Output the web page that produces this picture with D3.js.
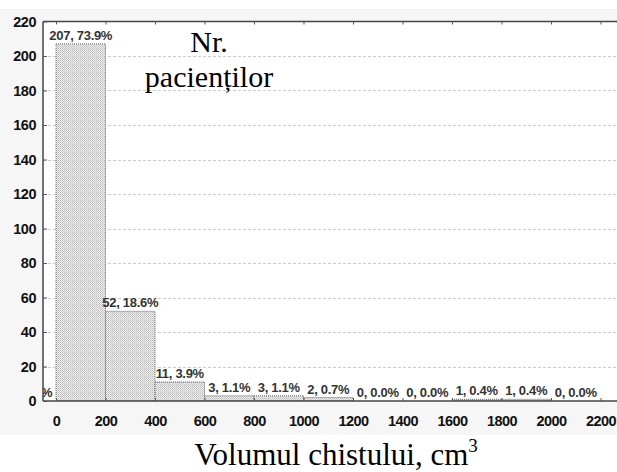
<!DOCTYPE html>
<html>
<head>
<meta charset="utf-8">
<script src="https://cdn.jsdelivr.net/npm/d3@7"></script>
<style>
  body { margin: 0; background: #fff; }
  svg { display: block; }
</style>
</head>
<body>
<script>
var width = 617;
var height = 472;

// bins of 200 cm3, first one (-200..0) is clipped by the left axis
var binStarts = [-200, 0, 200, 400, 600, 800, 1000, 1200, 1400, 1600, 1800, 2000];
var counts = [0, 207, 52, 11, 3, 3, 2, 0, 0, 1, 1, 0];
var percents = ["0.0", "73.9", "18.6", "3.9", "1.1", "1.1", "0.7", "0.0", "0.0", "0.4", "0.4", "0.0"];
var xTicks = [0, 200, 400, 600, 800, 1000, 1200, 1400, 1600, 1800, 2000, 2200];
var yTicks = [0, 20, 40, 60, 80, 100, 120, 140, 160, 180, 200, 220];
var binWidth = 200;

var svg = d3.select("body")
        .append("svg")
        .attr("width", width)
        .attr("height", height);

var x = d3.scaleLinear().domain([0, 2200]).range([56, 600.5]),
        y = d3.scaleLinear().domain([0, 220]).range([401, 21.5]);

var plotLeft = 43, plotRight = 620, plotTop = y(220), plotBottom = y(0);

var defs = svg.append("defs");
var pat = defs.append("pattern")
        .attr("id", "stipple")
        .attr("patternUnits", "userSpaceOnUse")
        .attr("width", 2).attr("height", 2);
pat.append("rect").attr("width", 2).attr("height", 2).attr("fill", "#ededed");
pat.append("rect").attr("width", 1).attr("height", 1).attr("fill", "#bcbcbc");
pat.append("rect").attr("x", 1).attr("y", 1).attr("width", 1).attr("height", 1).attr("fill", "#cdcdcd");

defs.append("clipPath").attr("id", "plotclip")
        .append("rect")
        .attr("x", plotLeft).attr("y", plotTop - 20)
        .attr("width", plotRight - plotLeft).attr("height", plotBottom - plotTop + 20);

// light panel behind the graph
svg.append("rect")
        .attr("x", 0).attr("y", 9)
        .attr("width", width).attr("height", 426)
        .attr("fill", "#f6f6f6");

svg.append("rect")
        .attr("x", plotLeft).attr("y", plotTop)
        .attr("width", plotRight - plotLeft).attr("height", plotBottom - plotTop)
        .attr("fill", "#fff");

// dashed grid
svg.append("g")
        .selectAll("line")
        .data(yTicks.slice(1, -1))
        .enter().append("line")
        .attr("x1", plotLeft).attr("x2", plotRight)
        .attr("y1", function(d){return Math.round(y(d)) + 0.5;})
        .attr("y2", function(d){return Math.round(y(d)) + 0.5;})
        .attr("stroke", "#cccccc")
        .attr("stroke-dasharray", "3,2");

var plot = svg.append("g").attr("clip-path", "url(#plotclip)");

var bins = binStarts.map(function(s, i){
    return {x0: s, x1: s + binWidth, n: counts[i], p: percents[i]};
});

plot.selectAll("rect.bar")
        .data(bins)
        .enter().append("rect")
        .attr("class", "bar")
        .attr("x", function(d){return x(d.x0);})
        .attr("y", function(d){return y(d.n);})
        .attr("width", function(d){return x(d.x1) - x(d.x0);})
        .attr("height", function(d){return y(0) - y(d.n);})
        .attr("fill", "url(#stipple)")
        .attr("stroke", "#666")
        .attr("stroke-width", 1)
        .attr("stroke-dasharray", "1,1");

plot.selectAll("text.lbl")
        .data(bins)
        .enter().append("text")
        .attr("class", "lbl")
        .attr("x", function(d){return x((d.x0 + d.x1) / 2);})
        .attr("y", function(d){return y(d.n) - 4;})
        .attr("text-anchor", "middle")
        .attr("font-family", "Liberation Sans, Arial, sans-serif")
        .attr("font-weight", "bold")
        .attr("font-size", 13)
        .attr("letter-spacing", -0.3)
        .attr("fill", "#333")
        .text(function(d){return d.n + ", " + d.p + "%";});

// frame
var axisColor = "#444";
svg.append("line").attr("x1", plotLeft).attr("x2", plotRight)
        .attr("y1", plotTop).attr("y2", plotTop).attr("stroke", axisColor).attr("stroke-width", 1.5);
svg.append("line").attr("x1", plotLeft).attr("x2", plotRight)
        .attr("y1", plotBottom).attr("y2", plotBottom).attr("stroke", axisColor).attr("stroke-width", 1.5);
svg.append("line").attr("x1", plotLeft).attr("x2", plotLeft)
        .attr("y1", plotTop).attr("y2", plotBottom).attr("stroke", axisColor).attr("stroke-width", 1.5);

// y axis (ticks inward)
var yAxis = d3.axisLeft(y).tickValues(yTicks).tickFormat(d3.format("d")).tickSize(-4).tickPadding(7);
var gy = svg.append("g")
        .attr("transform", "translate(" + plotLeft + ",0)")
        .call(yAxis);

// x axis (ticks inward) and mirrored ticks on top
var xAxis = d3.axisBottom(x).tickValues(xTicks).tickFormat(d3.format("d")).tickSize(-3).tickPadding(16);
var gx = svg.append("g")
        .attr("transform", "translate(0," + plotBottom + ")")
        .call(xAxis);
var gt = svg.append("g")
        .attr("transform", "translate(0," + plotTop + ")")
        .call(d3.axisTop(x).tickValues(xTicks).tickSize(-3).tickFormat(""));

[gy, gx, gt].forEach(function(g){
    g.select(".domain").remove();
    g.selectAll(".tick line").attr("stroke", "#555");
    g.selectAll("text")
            .attr("font-family", "Liberation Sans, Arial, sans-serif")
            .attr("font-weight", "bold")
            .attr("font-size", 14.5)
            .attr("letter-spacing", -0.5)
            .attr("fill", "#111");
});
gx.selectAll("text").attr("dy", "0.6em");

// titles
var serif = "Liberation Serif, Times New Roman, serif";
var ytitle = svg.append("text")
        .attr("text-anchor", "middle")
        .attr("font-family", serif)
        .attr("font-size", 30)
        .attr("fill", "#000");
ytitle.append("tspan").attr("x", 209).attr("y", 52).text("Nr.");
ytitle.append("tspan").attr("x", 209).attr("y", 87).text("pacienților");

var xtitle = svg.append("text")
        .attr("x", 336).attr("y", 465)
        .attr("text-anchor", "middle")
        .attr("font-family", serif)
        .attr("font-size", 31)
        .attr("fill", "#000");
xtitle.append("tspan").text("Volumul chistului, cm");
xtitle.append("tspan").attr("font-size", 19).attr("dy", -13).text("3");
</script>
</body>
</html>
